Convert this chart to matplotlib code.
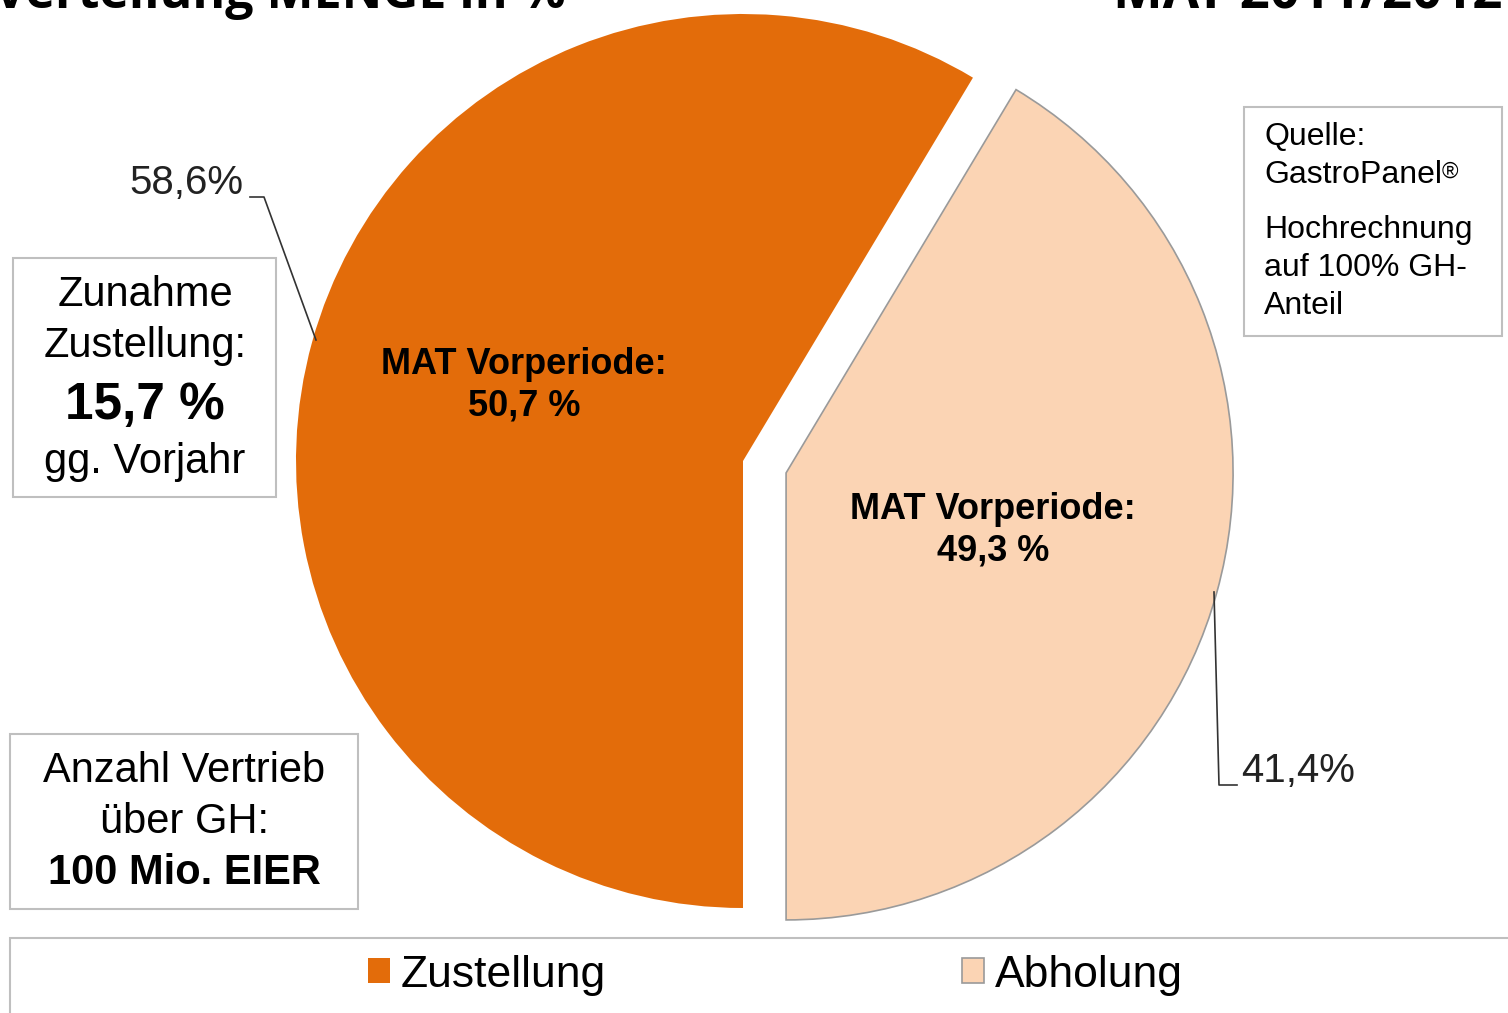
import matplotlib
matplotlib.use('Agg')
import matplotlib.pyplot as plt
from matplotlib.patches import Rectangle

# %% data
labels = ['Zustellung', 'Abholung']
share = [58.6, 41.4]          # MAT 2011/2012
prev_share = [50.7, 49.3]     # MAT Vorperiode
colors = ['#E36C0A', '#FBD4B4']

growth = 15.7
volume_text = '100 Mio. EIER'

title_left = 'Verteilung MENGE in %'
title_right = 'MAT 2011/2012'

def de(v):
    return ('%.1f' % v).replace('.', ',')

plt.rcParams['font.family'] = ['Liberation Sans', 'DejaVu Sans']

W, H = 1508, 1013
fig = plt.figure(figsize=(W / 100, H / 100), dpi=100)
ax = fig.add_axes([0, 0, 1, 1])

# pie, image coords converted with y = H - y
R = 447
wedges, _ = ax.pie(share, colors=colors, startangle=-90, counterclock=False,
                   radius=R, center=(743, H - 461), explode=[0, 0.1 * R],
                   wedgeprops=dict(linewidth=0))
wedges[1].set_edgecolor('#9A9A9A')
wedges[1].set_linewidth(1.2)

ax.set_xlim(0, W)
ax.set_ylim(0, H)
ax.set_aspect('auto')
ax.axis('off')

# titles, cut off at the top edge like in the source slide
ax.text(-6, H - 8, title_left, fontsize=36, fontweight='bold',
        family=['Open Sans', 'DejaVu Sans'], va='baseline', ha='left', color='black')
ax.text(1502, H - 8, title_right, fontsize=38, fontweight='bold',
        family=['Open Sans', 'DejaVu Sans'], va='baseline', ha='right', color='black')

# inner labels
ax.text(524, H - 385, 'MAT Vorperiode:\n%s %%' % de(prev_share[0]), fontsize=26,
        fontweight='bold', ha='center', va='center', linespacing=1.25)
ax.text(993, H - 530, 'MAT Vorperiode:\n%s %%' % de(prev_share[1]), fontsize=26,
        fontweight='bold', ha='center', va='center', linespacing=1.25)

# outer labels with leader lines
ax.text(243, H - 183, de(share[0]) + '%', fontsize=29, ha='right', va='center', color='#222222')
ax.plot([250, 264, 316], [H - 197, H - 197, H - 340], color='#333333', lw=1.2)
ax.text(1241, H - 771, de(share[1]) + '%', fontsize=29, ha='left', va='center', color='#222222')
ax.plot([1214, 1219, 1237], [H - 592, H - 785, H - 785], color='#333333', lw=1.2)

# boxes
box_ec = '#BFBFBF'
ax.add_patch(Rectangle((13, H - 497), 263, 239, fc='white', ec=box_ec, lw=1.5))
ax.text(145, H - 295, 'Zunahme', fontsize=30, ha='center', va='center')
ax.text(145, H - 346, 'Zustellung:', fontsize=30, ha='center', va='center')
ax.text(145, H - 405, de(growth) + ' %', fontsize=37, fontweight='bold', ha='center', va='center')
ax.text(145, H - 462, 'gg. Vorjahr', fontsize=30, ha='center', va='center')

ax.add_patch(Rectangle((10, H - 909), 348, 175, fc='white', ec=box_ec, lw=1.5))
ax.text(184, H - 771, 'Anzahl Vertrieb', fontsize=30, ha='center', va='center')
ax.text(184, H - 822, 'über GH:', fontsize=30, ha='center', va='center')
ax.text(184, H - 873, volume_text, fontsize=30, fontweight='bold', ha='center', va='center')

ax.add_patch(Rectangle((1244, H - 336), 258, 229, fc='white', ec=box_ec, lw=1.5))
ax.text(1264, H - 137, 'Quelle:', fontsize=23, ha='left', va='center')
gp = ax.text(1264, H - 175, 'GastroPanel', fontsize=23, ha='left', va='center')
ax.annotate('®', xy=(1, 0.95), xycoords=gp, fontsize=16, ha='left', va='top')
ax.text(1264, H - 230, 'Hochrechnung', fontsize=23, ha='left', va='center')
ax.text(1264, H - 268, 'auf 100% GH-', fontsize=23, ha='left', va='center')
ax.text(1264, H - 306, 'Anteil', fontsize=23, ha='left', va='center')

# legend frame
ax.add_patch(Rectangle((10, H - 1030), 1520, 92, fc='white', ec=box_ec, lw=1.5, clip_on=False))
leg = ax.legend(wedges, labels, loc='center', bbox_to_anchor=(775.5 / W, 1 - 975 / H),
                ncol=2, frameon=False, fontsize=32, handlelength=0.5, handleheight=0.5,
                handletextpad=0.25, columnspacing=8.0)
leg.legend_handles[0].set_edgecolor(colors[0])
leg.legend_handles[1].set_edgecolor('#9A9A9A')

fig.savefig('out.png', dpi=100)
